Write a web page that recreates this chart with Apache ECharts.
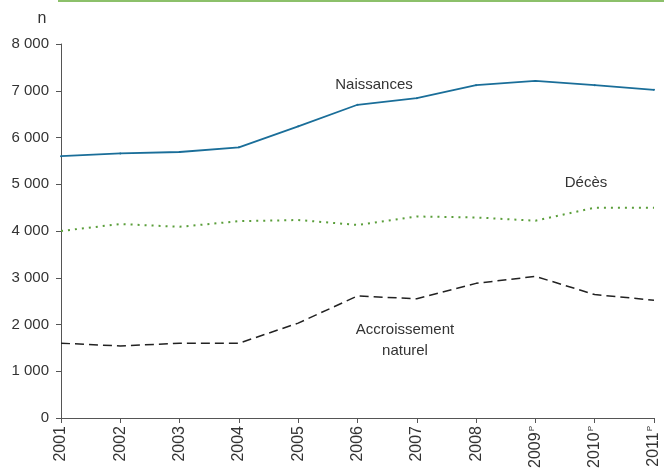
<!DOCTYPE html>
<html>
<head>
<meta charset="utf-8">
<script src="https://cdn.jsdelivr.net/npm/echarts@6/dist/echarts.min.js"></script>
<style>
  html, body { margin: 0; padding: 0; background: #fff; }
  #chart { width: 664px; height: 472px; }
</style>
</head>
<body>
<div id="chart"></div>
<script>
// années (P = provisoire)
const years = ['2001', '2002', '2003', '2004', '2005', '2006', '2007', '2008', '2009', '2010', '2011'];
const provisional = ['2009', '2010', '2011'];

const naissances = [5600, 5660, 5690, 5790, 6240, 6700, 6840, 7120, 7210, 7120, 7020];
const deces = [4000, 4150, 4090, 4210, 4235, 4130, 4310, 4290, 4220, 4500, 4500];
const accroissement = [1600, 1540, 1600, 1600, 2030, 2610, 2550, 2880, 3030, 2640, 2520];

const yTicks = [0, 1000, 2000, 3000, 4000, 5000, 6000, 7000, 8000];

const font = '"Liberation Sans", Arial, sans-serif';
const textColor = '#333';
const annot = '15px ' + font;

const chart = echarts.init(document.getElementById('chart'), null, { renderer: 'canvas' });

chart.setOption({
  animation: false,
  grid: { left: 61, right: 10, top: 44, bottom: 54, containLabel: false },
  graphic: [
    { type: 'rect', shape: { x: 58, y: 0, width: 606, height: 2 }, style: { fill: '#8cc06a' } },
    { type: 'text', x: 42, y: 19, style: { text: 'n', font: '16px ' + font, fill: textColor, align: 'center', verticalAlign: 'middle' } },
    { type: 'text', x: 374, y: 85, style: { text: 'Naissances', font: annot, fill: textColor, align: 'center', verticalAlign: 'middle' } },
    { type: 'text', x: 586, y: 183, style: { text: 'Décès', font: annot, fill: textColor, align: 'center', verticalAlign: 'middle' } },
    { type: 'text', x: 405, y: 330, style: { text: 'Accroissement', font: annot, fill: textColor, align: 'center', verticalAlign: 'middle' } },
    { type: 'text', x: 405, y: 351, style: { text: 'naturel', font: annot, fill: textColor, align: 'center', verticalAlign: 'middle' } }
  ],
  xAxis: {
    type: 'category',
    data: years,
    boundaryGap: false,
    axisLine: { lineStyle: { color: '#555', width: 1 } },
    axisTick: { alignWithLabel: true, length: 5, lineStyle: { color: '#555' } },
    axisLabel: {
      rotate: 90,
      margin: 8,
      interval: 0,
      color: textColor,
      fontFamily: font,
      fontSize: 16,
      formatter: v => provisional.includes(v) ? v + '{p|P}' : v,
      rich: { p: { fontSize: 8, fontFamily: font, color: textColor, verticalAlign: 'top', padding: [0, 0, 8, 1] } }
    },
    splitLine: { show: false }
  },
  yAxis: {
    type: 'value',
    min: yTicks[0],
    max: yTicks[yTicks.length - 1],
    interval: 1000,
    axisLine: { show: true, lineStyle: { color: '#555', width: 1 } },
    axisTick: { show: true, length: 5, lineStyle: { color: '#555' } },
    axisLabel: {
      margin: 12,
      color: textColor,
      fontFamily: font,
      fontSize: 15,
      formatter: v => v === 0 ? '0' : String(v).replace(/\B(?=(\d{3})+(?!\d))/g, ' ')
    },
    splitLine: { show: false }
  },
  series: [
    {
      name: 'Naissances',
      type: 'line',
      data: naissances,
      symbol: 'circle',
      symbolSize: 2,
      itemStyle: { color: '#1a6e99' },
      lineStyle: { color: '#1a6e99', width: 1.8 }
    },
    {
      name: 'Décès',
      type: 'line',
      data: deces,
      symbol: 'none',
      lineStyle: { color: '#5a9e3a', width: 2, type: [2, 5] }
    },
    {
      name: 'Accroissement naturel',
      type: 'line',
      data: accroissement,
      symbol: 'none',
      lineStyle: { color: '#222', width: 1.5, type: [9, 5] }
    }
  ]
});
</script>
</body>
</html>
